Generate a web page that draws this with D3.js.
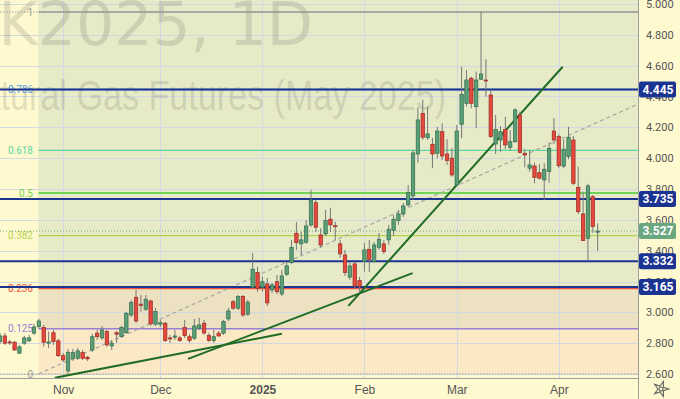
<!DOCTYPE html>
<html>
<head>
<meta charset="utf-8">
<script src="https://cdn.jsdelivr.net/npm/d3@7"></script>
<style>
  html, body { margin: 0; padding: 0; background: #fff9d0; }
  svg { display: block; }
</style>
</head>
<body>
<div id="chart"></div>
<script>
// NG K2025 daily bars, index 0 = 15 Oct 2024
const openP = [
  2.810, 2.847, 2.808, 2.806, 2.735, 2.800, 2.815, 2.865, 2.907, 2.901,
  2.800, 2.868, 2.815, 2.719, 2.620, 2.698, 2.702, 2.739, 2.709, 2.756,
  2.865, 2.834, 2.875, 2.782, 2.868, 2.842, 2.868, 2.983, 3.098, 3.053,
  3.020, 3.074, 2.923, 2.923, 2.929, 2.834, 2.839, 2.834, 2.903, 2.842,
  2.832, 2.897, 2.929, 2.849, 2.817, 2.865, 2.865, 2.957, 3.069, 3.027,
  3.102, 2.988, 3.163, 3.258, 3.163, 3.184, 3.145, 3.199, 3.119, 3.247,
  3.322, 3.513, 3.444, 3.455, 3.567, 3.711, 3.502, 3.509, 3.604, 3.562,
  3.444, 3.372, 3.228, 3.314, 3.206, 3.329, 3.409, 3.329, 3.422, 3.444,
  3.470, 3.530, 3.595, 3.638, 3.697, 3.755, 4.027, 4.291, 4.133, 4.090,
  4.032, 4.172, 4.027, 4.000, 3.826, 4.220, 4.356, 4.518, 4.334, 4.512,
  4.507, 4.410, 4.092, 4.118, 4.187, 4.071, 4.107, 4.280, 4.032, 3.935,
  3.949, 3.906, 3.859, 3.913, 4.176, 4.140, 3.949, 4.010, 4.118, 3.811,
  3.638, 3.480, 3.750, 3.520
];
const highP = [
  2.867, 2.867, 2.821, 2.815, 2.789, 2.847, 2.854, 2.925, 2.957, 2.918,
  2.875, 2.886, 2.828, 2.737, 2.763, 2.763, 2.769, 2.756, 2.717, 2.860,
  2.886, 2.912, 2.886, 2.821, 2.879, 2.912, 3.003, 3.081, 3.145, 3.113,
  3.113, 3.081, 3.029, 2.951, 2.938, 2.854, 2.886, 2.847, 2.951, 2.860,
  2.957, 2.964, 2.951, 2.867, 2.886, 2.879, 2.951, 3.029, 3.081, 3.113,
  3.113, 3.081, 3.385, 3.296, 3.232, 3.223, 3.191, 3.243, 3.275, 3.327,
  3.470, 3.586, 3.522, 3.599, 3.794, 3.729, 3.547, 3.664, 3.677, 3.588,
  3.470, 3.405, 3.327, 3.327, 3.230, 3.450, 3.470, 3.457, 3.515, 3.470,
  3.567, 3.632, 3.664, 3.710, 3.826, 4.053, 4.330, 4.378, 4.334, 4.131,
  4.204, 4.226, 4.123, 4.066, 4.215, 4.593, 4.572, 4.529, 4.561, 4.948,
  4.641, 4.438, 4.280, 4.209, 4.269, 4.183, 4.324, 4.302, 4.058, 4.053,
  3.971, 3.962, 3.967, 4.101, 4.259, 4.155, 4.123, 4.204, 4.144, 3.945,
  3.783, 3.833, 3.761, 3.578
];
const lowP = [
  2.795, 2.789, 2.789, 2.750, 2.730, 2.789, 2.808, 2.854, 2.899, 2.778,
  2.769, 2.789, 2.711, 2.678, 2.600, 2.685, 2.691, 2.691, 2.685, 2.743,
  2.821, 2.821, 2.776, 2.756, 2.802, 2.834, 2.860, 2.970, 2.931, 3.003,
  3.009, 2.912, 2.912, 2.905, 2.808, 2.802, 2.821, 2.808, 2.834, 2.802,
  2.821, 2.886, 2.854, 2.808, 2.802, 2.841, 2.854, 2.944, 3.016, 3.016,
  2.970, 2.977, 3.152, 3.134, 3.134, 3.042, 3.126, 3.119, 3.106, 3.236,
  3.314, 3.405, 3.372, 3.444, 3.554, 3.521, 3.418, 3.496, 3.521, 3.470,
  3.353, 3.236, 3.210, 3.152, 3.126, 3.264, 3.262, 3.320, 3.405, 3.379,
  3.437, 3.496, 3.567, 3.619, 3.684, 3.729, 3.971, 4.118, 4.118, 3.935,
  3.999, 3.988, 3.956, 3.880, 3.820, 4.129, 4.334, 4.324, 4.194, 4.507,
  4.399, 4.131, 4.027, 4.042, 4.058, 4.049, 4.099, 4.032, 3.941, 3.913,
  3.837, 3.863, 3.729, 3.841, 4.092, 3.935, 3.935, 3.993, 3.826, 3.638,
  3.463, 3.340, 3.515, 3.400
];
const closeP = [
  2.847, 2.800, 2.803, 2.756, 2.776, 2.834, 2.834, 2.905, 2.944, 2.806,
  2.808, 2.810, 2.719, 2.691, 2.741, 2.739, 2.750, 2.702, 2.698, 2.842,
  2.842, 2.886, 2.789, 2.800, 2.858, 2.901, 2.994, 3.063, 2.944, 3.044,
  3.085, 2.925, 3.005, 2.933, 2.817, 2.831, 2.847, 2.817, 2.849, 2.817,
  2.912, 2.918, 2.866, 2.817, 2.842, 2.847, 2.940, 3.009, 3.027, 3.102,
  2.983, 3.066, 3.280, 3.156, 3.199, 3.061, 3.178, 3.134, 3.236, 3.301,
  3.420, 3.452, 3.470, 3.560, 3.729, 3.552, 3.437, 3.595, 3.567, 3.556,
  3.379, 3.258, 3.301, 3.171, 3.167, 3.405, 3.344, 3.437, 3.474, 3.394,
  3.539, 3.604, 3.638, 3.690, 3.776, 4.034, 4.248, 4.136, 4.157, 4.027,
  4.176, 4.014, 3.984, 3.891, 4.176, 4.414, 4.507, 4.356, 4.507, 4.546,
  4.501, 4.140, 4.187, 4.172, 4.086, 4.107, 4.313, 4.036, 4.021, 3.956,
  3.876, 3.870, 3.928, 4.064, 4.118, 3.951, 4.058, 4.136, 3.837, 3.653,
  3.465, 3.820, 3.556, 3.527
];

const priceTicks = [2.6, 2.8, 3.0, 3.2, 3.4, 3.6, 3.8, 4.0, 4.2, 4.4, 4.6, 4.8, 5.0];
const monthIdx = [13, 33, 54, 75, 94, 115];
const monthLabels = ["Nov", "Dec", "2025", "Feb", "Mar", "Apr"];

const keyLevels = [4.445, 3.735, 3.332, 3.165];
const lastPrice = 3.527;

const fibLow = 2.600, fibHigh = 4.948, fibStartIdx = 7.9;
const fibRatios = [0, 0.125, 0.236, 0.382, 0.5, 0.618, 0.786, 1];
const fibLabels = ["0", "0.125", "0.236", "0.382", "0.5", "0.618", "0.786", "1"];
const fibDiagonal = [[7.9, 2.600], [131.3, 4.351]];

// hand-drawn trend lines: [bar index, price]
const trendLines = [
  [[11.3, 2.575], [58.0, 2.861]],
  [[38.7, 2.698], [84.9, 3.254]],
  [[71.7, 3.042], [115.8, 4.593]]
];

const W = 680, H = 399, plotW = 638, plotH = 378;

const bars = openP.map((o, i) => ({ i, o, h: highP[i], l: lowP[i], c: closeP[i] }));

const x = d3.scaleLinear().domain([0, 131.3]).range([0, plotW]);
const y = d3.scaleLinear().domain([2.6, 5.0]).range([374, 4]);

const fibColors = ["#9a9a9a", "#9a7fd6", "#f0523e", "#b3d44a", "#72d45a", "#5cd6a2", "#4d9ee0", "#9a9a9a"];
const fibFills = ["#fbe8c4", "#ece2c2", "#e6eac7", "#e6eac7", "#e6eac7", "#e6eac7", "#e6eac7"];
const fibPrice = r => fibLow + r * (fibHigh - fibLow);

const svg = d3.select("#chart")
  .append("svg")
  .attr("width", W)
  .attr("height", H)
  .style("font-family", "Roboto, 'Liberation Sans', sans-serif");

svg.append("rect").attr("width", W).attr("height", H).attr("fill", "#fff9d0");

svg.append("clipPath").attr("id", "plot-clip")
  .append("rect").attr("width", plotW).attr("height", plotH);

const plot = svg.append("g").attr("clip-path", "url(#plot-clip)");

// fib zones
const fx0 = x(fibStartIdx);
plot.append("rect")
  .attr("x", fx0).attr("y", 0)
  .attr("width", plotW - fx0).attr("height", y(fibHigh))
  .attr("fill", "#e6eac7");
plot.selectAll(".fib-zone")
  .data(fibRatios.slice(0, -1))
  .enter()
  .append("rect")
  .attr("x", fx0)
  .attr("y", (d, k) => y(fibPrice(fibRatios[k + 1])))
  .attr("width", plotW - fx0)
  .attr("height", (d, k) => y(fibPrice(d)) - y(fibPrice(fibRatios[k + 1])))
  .attr("fill", (d, k) => fibFills[k]);

// grid
plot.selectAll(".hgrid")
  .data(priceTicks)
  .enter()
  .append("line")
  .attr("x1", 0).attr("x2", plotW)
  .attr("y1", d => Math.round(y(d)) + 0.5).attr("y2", d => Math.round(y(d)) + 0.5)
  .attr("stroke", "#d3d9e3");
plot.selectAll(".vgrid")
  .data(monthIdx)
  .enter()
  .append("line")
  .attr("x1", d => Math.round(x(d)) + 0.5).attr("x2", d => Math.round(x(d)) + 0.5)
  .attr("y1", 0).attr("y2", plotH)
  .attr("stroke", "#d3d9e3");

// watermark
plot.append("text")
  .attr("x", 313).attr("y", 45)
  .attr("text-anchor", "end")
  .style("font-family", "'DejaVu Sans', sans-serif")
  .style("font-size", "60px")
  .attr("fill", "#6b6b5e").attr("fill-opacity", 0.2)
  .text("NGK2025, 1D");
plot.append("text")
  .attr("x", -43).attr("y", 110)
  .attr("textLength", 489).attr("lengthAdjust", "spacingAndGlyphs")
  .style("font-family", "'Liberation Sans', sans-serif")
  .style("font-size", "42px")
  .attr("fill", "#6b6b5e").attr("fill-opacity", 0.2)
  .text("Natural Gas Futures (May 2025)");

// fib high / low dotted guides
plot.selectAll(".fib-guide")
  .data([fibLow, fibHigh])
  .enter()
  .append("line")
  .attr("x1", 0).attr("x2", plotW)
  .attr("y1", d => y(d)).attr("y2", d => y(d))
  .attr("stroke", "#a0a0a0")
  .attr("stroke-dasharray", "1.5,1.5");

// fib level lines
plot.selectAll(".fib-line")
  .data(fibRatios.filter(r => r > 0))
  .enter()
  .append("line")
  .attr("x1", fx0).attr("x2", plotW)
  .attr("y1", d => y(fibPrice(d))).attr("y2", d => y(fibPrice(d)))
  .attr("stroke", d => fibColors[fibRatios.indexOf(d)])
  .attr("stroke-width", d => d === 0.5 ? 2 : 1.3);

plot.selectAll(".fib-label")
  .data(fibRatios)
  .enter()
  .append("text")
  .attr("x", 33)
  .attr("y", d => y(fibPrice(d)))
  .attr("dy", "0.35em")
  .attr("text-anchor", "end")
  .style("font-size", "10px")
  .attr("fill", (d, k) => fibColors[k])
  .text((d, k) => fibLabels[k]);

// fib diagonal
const line = d3.line().x(d => x(d[0])).y(d => y(d[1]));
plot.append("path")
  .attr("d", line(fibDiagonal))
  .attr("fill", "none")
  .attr("stroke", "#a8a8a0")
  .attr("stroke-width", 1.2)
  .attr("stroke-dasharray", "4,3");

// current price dotted line
plot.append("line")
  .attr("x1", 0).attr("x2", plotW)
  .attr("y1", y(lastPrice)).attr("y2", y(lastPrice))
  .attr("stroke", "#7aa88a")
  .attr("stroke-dasharray", "1,2");

// key horizontal levels
plot.selectAll(".key-line")
  .data(keyLevels)
  .enter()
  .append("line")
  .attr("x1", 0).attr("x2", plotW)
  .attr("y1", d => y(d)).attr("y2", d => y(d))
  .attr("stroke", "#1b3391")
  .attr("stroke-width", 2);

// trend lines
plot.selectAll(".trend")
  .data(trendLines)
  .enter()
  .append("path")
  .attr("d", d => line(d))
  .attr("fill", "none")
  .attr("stroke", "#1f6b24")
  .attr("stroke-width", 2);

// candles
const bw = 3.4;
const candle = plot.selectAll(".candle")
  .data(bars)
  .enter()
  .append("g");

candle.append("line")
  .attr("x1", d => x(d.i)).attr("x2", d => x(d.i))
  .attr("y1", d => y(d.h)).attr("y2", d => y(d.l))
  .attr("stroke", "#777");

candle.append("rect")
  .attr("x", d => x(d.i) - bw / 2)
  .attr("y", d => y(Math.max(d.o, d.c)))
  .attr("width", bw)
  .attr("height", d => Math.max(1, Math.abs(y(d.o) - y(d.c))))
  .attr("fill", d => d.c >= d.o ? "#5c9e78" : "#e5483d")
  .attr("stroke", d => d.c >= d.o ? "#2f6e4c" : "#9a2a22")
  .attr("stroke-width", 0.7);

// separators
svg.append("line")
  .attr("x1", 0).attr("x2", plotW)
  .attr("y1", plotH + 0.5).attr("y2", plotH + 0.5)
  .attr("stroke", "#9e9e9e");
svg.append("line")
  .attr("x1", plotW + 0.5).attr("x2", plotW + 0.5)
  .attr("y1", 0).attr("y2", H)
  .attr("stroke", "#9e9e9e");

// price axis
const yAxis = svg.append("g")
  .attr("transform", `translate(${plotW},0)`)
  .call(d3.axisRight(y).tickValues(priceTicks).tickFormat(d3.format(".3f")).tickSize(0).tickPadding(8));
yAxis.select(".domain").remove();
yAxis.selectAll("text")
  .style("font-size", "11px")
  .style("font-family", "Roboto, sans-serif")
  .attr("fill", "#555");

// time axis
const xAxis = svg.append("g")
  .attr("transform", `translate(0,${plotH})`)
  .call(d3.axisBottom(x).tickValues(monthIdx).tickFormat((d, k) => monthLabels[k]).tickSize(0).tickPadding(7));
xAxis.select(".domain").remove();
xAxis.selectAll("text")
  .style("font-size", "12px")
  .style("font-weight", (d, k) => monthLabels[k] === "2025" ? "bold" : "normal")
  .attr("fill", "#555");

// price labels on axis
const tags = keyLevels.map(v => ({ v, fill: "#1b3391" })).concat([{ v: lastPrice, fill: "#6aa680" }]);
const tag = svg.selectAll(".tag")
  .data(tags)
  .enter()
  .append("g")
  .attr("transform", d => `translate(${plotW + 1},${y(d.v)})`);
tag.append("rect")
  .attr("x", 0).attr("y", -8)
  .attr("width", 37).attr("height", 16)
  .attr("rx", 2)
  .attr("fill", d => d.fill);
tag.append("text")
  .attr("x", 19).attr("dy", "0.35em")
  .attr("text-anchor", "middle")
  .style("font-size", "12px")
  .style("font-weight", "bold")
  .attr("fill", "#fff")
  .text(d => d.v.toFixed(3));

// settings gear
const gear = svg.append("g").attr("transform", "translate(661,389)");
gear.append("path")
  .attr("d", d3.symbol().type(d3.symbolStar).size(70))
  .attr("fill", "none").attr("stroke", "#666").attr("stroke-width", 1.1)
  .attr("transform", "rotate(18)");
gear.append("circle").attr("r", 2).attr("fill", "none").attr("stroke", "#666").attr("stroke-width", 1.1);
</script>
</body>
</html>
